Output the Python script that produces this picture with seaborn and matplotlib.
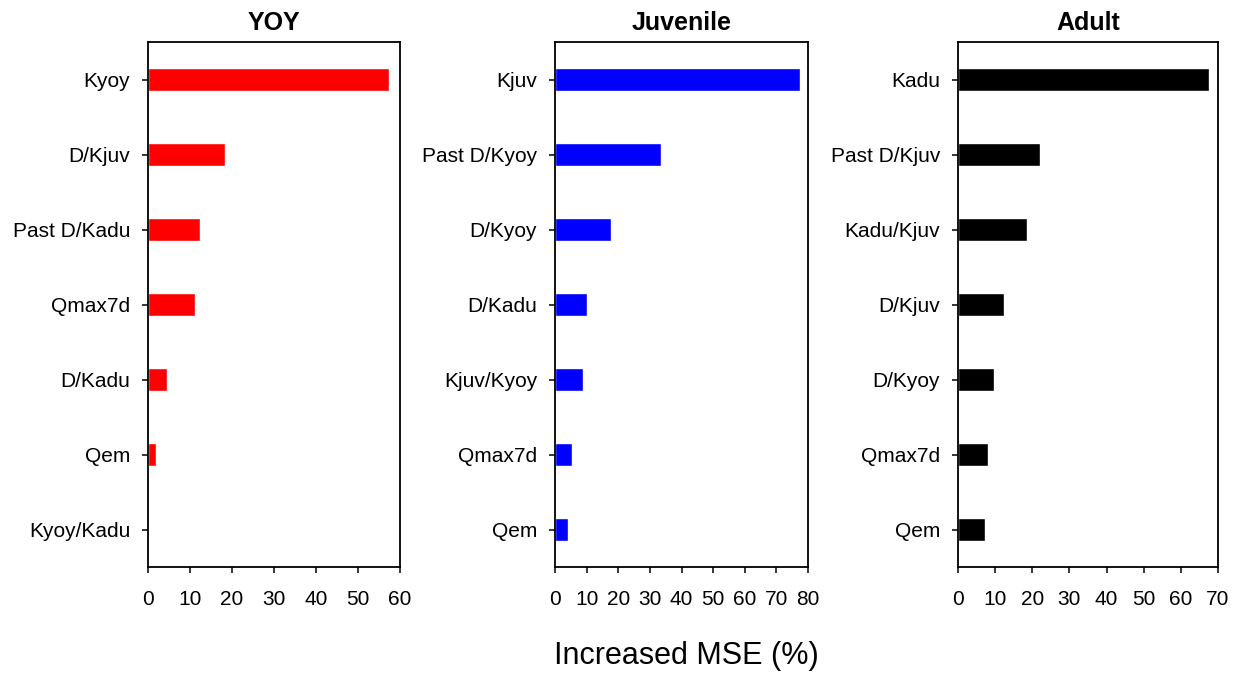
import matplotlib
matplotlib.use("Agg")
import matplotlib.pyplot as plt
import seaborn as sns
import pandas as pd

sns.set_theme(style="white")
plt.rcParams["font.family"] = ["Liberation Sans", "DejaVu Sans"]
plt.rcParams["text.color"] = "black"
plt.rcParams["xtick.color"] = "black"
plt.rcParams["ytick.color"] = "black"
plt.rcParams["axes.labelcolor"] = "black"

# Variable importance (increased MSE, %) for each life stage
yoy_vars = ["Kyoy", "D/Kjuv", "Past D/Kadu", "Qmax7d", "D/Kadu", "Qem", "Kyoy/Kadu"]
yoy_mse = [57.3, 18.3, 12.4, 11.2, 4.6, 2.0, 0.2]

juv_vars = ["Kjuv", "Past D/Kyoy", "D/Kyoy", "D/Kadu", "Kjuv/Kyoy", "Qmax7d", "Qem"]
juv_mse = [77.5, 33.6, 17.6, 10.2, 8.8, 5.4, 4.2]

adu_vars = ["Kadu", "Past D/Kjuv", "Kadu/Kjuv", "D/Kjuv", "D/Kyoy", "Qmax7d", "Qem"]
adu_mse = [67.5, 22.2, 18.5, 12.5, 9.6, 8.0, 7.4]

panels = [
    ("YOY", yoy_vars, yoy_mse, "#ff0000", 60, 10),
    ("Juvenile", juv_vars, juv_mse, "#0000ff", 80, 10),
    ("Adult", adu_vars, adu_mse, "#000000", 70, 10),
]

W, H = 1236, 674
fig = plt.figure(figsize=(W / 100, H / 100), dpi=100)
rects = [
    [148 / W, 1 - 567 / H, 252 / W, 525 / H],
    [555 / W, 1 - 567 / H, 253 / W, 525 / H],
    [958 / W, 1 - 567 / H, 260 / W, 525 / H],
]

for rect, (title, names, vals, color, xmax, step) in zip(rects, panels):
    ax = fig.add_axes(rect)
    df = pd.DataFrame({"var": names, "mse": vals})
    sns.barplot(data=df, y="var", x="mse", orient="h", color=color,
                width=0.3, saturation=1, ax=ax, order=names)
    ax.set_xlim(0, xmax)
    ax.set_ylim(6.5, -0.5)
    ax.set_xticks(range(0, xmax + 1, step))
    ax.set_xlabel("")
    ax.set_ylabel("")
    ax.set_title(title, fontsize=18, fontweight="bold", pad=9, color="black")
    ax.tick_params(axis="both", which="major", direction="out", length=4.3,
                   width=1.1, color="black", labelsize=15, labelcolor="black",
                   left=True, bottom=True)
    ax.tick_params(axis="y", pad=8.5)
    ax.tick_params(axis="x", pad=12)
    for s in ax.spines.values():
        s.set_color("black")
        s.set_linewidth(1.3)

fig.text(686 / W, 1 - 656 / H, "Increased MSE (%)", ha="center", va="center",
         fontsize=22, color="black")

fig.savefig("out.png", dpi=100)
